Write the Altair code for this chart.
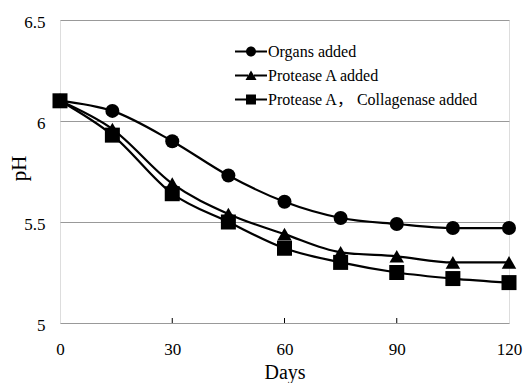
import altair as alt
import pandas as pd

days = [0, 14, 30, 45, 60, 75, 90, 105, 120]
series_names = ["Organs added", "Protease A added", "Protease A，  Collagenase added"]
organs = [6.10, 6.05, 5.90, 5.73, 5.60, 5.52, 5.49, 5.47, 5.47]
protease = [6.10, 5.96, 5.69, 5.54, 5.44, 5.35, 5.33, 5.30, 5.30]
collagenase = [6.10, 5.93, 5.64, 5.50, 5.37, 5.30, 5.25, 5.22, 5.20]
x_ticks = [0, 30, 60, 90, 120]
y_ticks = [5, 5.5, 6, 6.5]
inner_ticks = [30, 60, 90]

rows = []
for name, vals in zip(series_names, [organs, protease, collagenase]):
    for d, v in zip(days, vals):
        rows.append({"day": d, "ph": v, "series": name})
df = pd.DataFrame(rows)
tick_df = pd.DataFrame({"day": inner_ticks})

FONT = "Liberation Serif"
LEG_FONT = "Liberation Serif, Noto Sans CJK SC"

xenc = alt.X("day:Q", scale=alt.Scale(domain=[0, 120], nice=False),
             axis=alt.Axis(values=x_ticks, title="Days", grid=False, domain=False,
                           ticks=False, labelPadding=18, labelFontSize=17,
                           titleFontSize=20, titleFontWeight="normal",
                           titleY=55, titleBaseline="alphabetic",
                           labelFont=FONT, titleFont=FONT, labelColor="black",
                           titleColor="black", labelFlush=False))
yenc = alt.Y("ph:Q", scale=alt.Scale(domain=[5, 6.5], nice=False, zero=False),
             axis=alt.Axis(values=y_ticks, title="pH", grid=True, gridColor="#999999",
                           gridWidth=1, domain=False, ticks=False, labelPadding=15,
                           labelFontSize=17, titleFontSize=21, titleFontWeight="normal",
                           format=".1~f", labelOffset=2,
                           labelFont=FONT, titleFont=FONT, labelColor="black",
                           titleColor="black", titleX=-35, titleY=148,
                           titleAngle=-90, titleBaseline="alphabetic", titleAlign="center",
                           labelFlush=False))

shape_scale = alt.Scale(domain=series_names, range=["circle", "triangle-up", "square"])
size_scale = alt.Scale(domain=series_names, range=[196, 225, 196])

lines = alt.Chart(df).mark_line(color="black", strokeWidth=2.2, interpolate="monotone").encode(
    x=xenc, y=yenc, detail="series:N")

points = alt.Chart(df).mark_point(filled=True, color="black", opacity=1).encode(
    x="day:Q", y="ph:Q",
    shape=alt.Shape("series:N", scale=shape_scale, legend=None),
    size=alt.Size("series:N", scale=size_scale, legend=None))

leg_paths = [
    "M-2.67,-0.18H-0.5V0.18H-2.67ZM0.5,-0.18H2.67V0.18H0.5Z"
    "M-0.83,0A0.83,0.83,0,1,1,0.83,0A0.83,0.83,0,1,1,-0.83,0Z",
    "M-2.67,-0.18H-0.5V0.18H-2.67ZM0.5,-0.18H2.67V0.18H0.5Z"
    "M0,-0.85L0.92,0.75L-0.92,0.75Z",
    "M-2.67,-0.18H-0.5V0.18H-2.67ZM0.5,-0.18H2.67V0.18H0.5Z"
    "M-0.83,-0.83H0.83V0.83H-0.83Z",
]

legend_layer = alt.Chart(df).transform_filter("datum.day < 0").mark_point(
    filled=True, color="black", size=144, opacity=1).encode(
    x="day:Q", y="ph:Q",
    shape=alt.Shape("series:N", title=None,
                    scale=alt.Scale(domain=series_names, range=leg_paths),
                    legend=alt.Legend(orient="none", legendX=183, legendY=23.5,
                                      symbolSize=144, symbolFillColor="black",
                                      symbolStrokeWidth=0, labelOffset=9,
                                      labelFont=LEG_FONT, labelFontSize=16,
                                      labelColor="black", rowPadding=8,
                                      padding=0, labelLimit=400)))

ticks = alt.Chart(tick_df).mark_rule(color="black", strokeWidth=1).encode(
    x="day:Q", y=alt.value(303), y2=alt.value(298))

chart = alt.layer(lines, ticks, points, legend_layer).resolve_scale(
    shape="independent", size="independent"
).properties(
    width=449, height=303,
    autosize=alt.AutoSizeParams(type="none"),
    padding={"left": 52, "top": 12, "right": 15, "bottom": 60},
).configure_view(stroke="black", strokeWidth=1.3).configure(
    font=FONT, background="white"
).configure_axis(labelFont=FONT, titleFont=FONT).configure_legend(
    labelFont=LEG_FONT, titleFont=FONT
).configure_text(font=FONT)

chart.save("out.html", embed_options={"renderer": "svg", "actions": False})
